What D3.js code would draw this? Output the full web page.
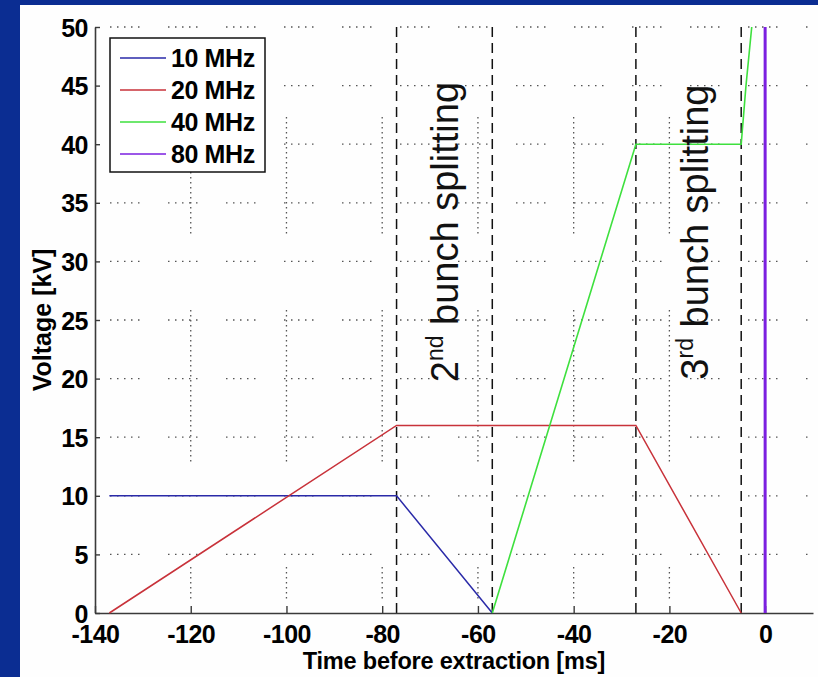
<!DOCTYPE html>
<html>
<head>
<meta charset="utf-8">
<script src="https://cdn.jsdelivr.net/npm/d3@7"></script>
<style>
  html, body { margin: 0; padding: 0; background: #0b2d92; }
  svg { display: block; }
  text { font-family: "Liberation Sans", Arial, Helvetica, sans-serif; }
</style>
</head>
<body>
<svg id="chart" width="818" height="677"></svg>
<script>
// ---- data ----
const xTicks = [-140, -120, -100, -80, -60, -40, -20, 0];
const yTicks = [0, 5, 10, 15, 20, 25, 30, 35, 40, 45, 50];
const seriesNames = ["10 MHz", "20 MHz", "40 MHz", "80 MHz"];
const seriesColors = ["#2a2aa8", "#c8323a", "#3ee03e", "#7b1fe0"];
const s10x = [-137, -77, -57];
const s10y = [10, 10, 0];
const s20x = [-137, -77, -27, -5];
const s20y = [0, 16, 16, 0];
const s40x = [-57, -27, -5, -4, -2.8];
const s40y = [0, 40, 40, 45, 50];
const s80x = [0, 0];
const s80y = [0, 50];
const markerTimes = [-77, -57, -27, -5];
const annotations = [
  { x: -64.2, y: 32.5, main: "2", sup: "nd", rest: " bunch splitting" },
  { x: -12.0, y: 32.5, main: "3", sup: "rd", rest: " bunch splitting" }
];

// ---- layout ----
const svg = d3.select("#chart");
const L = 95, R = 813, T = 27, B = 613;

svg.append("rect").attr("x", 20).attr("y", 5).attr("width", 798).attr("height", 672).attr("fill", "#fefefe");

const x = d3.scaleLinear().domain([-140, 10]).range([L, R]);
const y = d3.scaleLinear().domain([0, 50]).range([B, T]);

// grid (MATLAB-like sparse dotted grid)
const g = svg.append("g");
const hDash = "1.5,5.5,1.5,5.5,1.5,5.5,1.5,5.5,1.5,28.5";
g.selectAll("line.hg").data(yTicks.filter(d => d > 0)).join("line")
  .attr("x1", L).attr("x2", R).attr("y1", d => y(d)).attr("y2", d => y(d))
  .attr("stroke", "#555").attr("stroke-width", 1.3)
  .attr("stroke-dasharray", hDash).attr("stroke-dashoffset", -15);

function dotSegments(segs, total) {
  const arr = []; let pos = 0;
  segs.forEach(([a, b]) => {
    arr.push(0.01, a - pos);
    pos = a;
    while (pos + 5 <= b) { arr.push(1.5, 3.5); pos += 5; }
  });
  arr.push(0.01, total - pos + 1);
  return arr.join(",");
}
const vDash = dotSegments([[90, 213], [283, 438], [540, 576]], B - T);
g.selectAll("line.vg").data(xTicks.filter(d => d > -140 && d < 0)).join("line")
  .attr("x1", d => x(d)).attr("x2", d => x(d)).attr("y1", T).attr("y2", B)
  .attr("stroke", "#555").attr("stroke-width", 1.3)
  .attr("stroke-dasharray", vDash);

// dashed marker lines
svg.selectAll("line.mk").data(markerTimes).join("line")
  .attr("x1", d => x(d)).attr("x2", d => x(d)).attr("y1", y(0)).attr("y2", y(50))
  .attr("stroke", "#111").attr("stroke-width", 1.5).attr("stroke-dasharray", "10,6");

// axes
const fmt = d => String(d);
const xAxis = d3.axisBottom(x).tickValues(xTicks).tickFormat(fmt).tickSize(-7).tickPadding(12.5).tickSizeOuter(0);
const yAxis = d3.axisLeft(y).tickValues(yTicks).tickFormat(fmt).tickSize(-5).tickPadding(7).tickSizeOuter(0);
const gx = svg.append("g").attr("transform", `translate(0,${B})`).call(xAxis);
const gy = svg.append("g").attr("transform", `translate(${L},0)`).call(yAxis);
[gx, gy].forEach(a => {
  a.select(".domain").attr("stroke", "#3a3a3a").attr("stroke-width", 1.6);
  a.selectAll(".tick line").attr("stroke", "#3a3a3a").attr("stroke-width", 1.4);
  a.selectAll(".tick text").attr("fill", "#000").attr("font-size", 25).attr("font-weight", "bold")
    .style("font-family", "'Liberation Sans', Arial, sans-serif").attr("letter-spacing", -0.5);
});
gx.selectAll(".tick text").attr("dy", "0.71em");
gy.selectAll(".tick text").attr("dy", "0.36em");

// series
const line = d3.line().x(d => x(d[0])).y(d => y(d[1]));
const series = [
  { xs: s10x, ys: s10y, w: 1.5 },
  { xs: s20x, ys: s20y, w: 1.5 },
  { xs: s40x, ys: s40y, w: 1.6 },
  { xs: s80x, ys: s80y, w: 3 }
];
series.forEach((s, i) => {
  svg.append("path").datum(s.xs.map((v, k) => [v, s.ys[k]]))
    .attr("d", line).attr("fill", "none").attr("stroke", seriesColors[i]).attr("stroke-width", s.w);
});

// annotations
annotations.forEach(a => {
  const t = svg.append("text")
    .attr("transform", `translate(${x(a.x)},${y(a.y)}) rotate(-90)`)
    .attr("text-anchor", "middle").attr("font-size", 38).attr("fill", "#111");
  t.append("tspan").text(a.main);
  t.append("tspan").attr("font-size", 23).attr("dy", -15).text(a.sup);
  t.append("tspan").attr("dy", 15).text(a.rest);
});

// axis titles
svg.append("text").attr("x", (L + R) / 2).attr("y", 669).attr("text-anchor", "middle")
  .attr("font-size", 23.5).attr("font-weight", "bold").attr("letter-spacing", -0.2)
  .text("Time before extraction [ms]");
svg.append("text").attr("transform", `translate(51,${(T + B) / 2}) rotate(-90)`)
  .attr("text-anchor", "middle").attr("font-size", 25).attr("font-weight", "bold")
  .text("Voltage [kV]");

// legend
const lg = svg.append("g");
lg.append("rect").attr("x", 110).attr("y", 38).attr("width", 155).attr("height", 134)
  .attr("fill", "#fff").attr("stroke", "#111").attr("stroke-width", 1.5);
seriesNames.forEach((n, i) => {
  const yy = 58 + i * 32;
  lg.append("line").attr("x1", 120).attr("x2", 166).attr("y1", yy).attr("y2", yy)
    .attr("stroke", seriesColors[i]).attr("stroke-width", 1.5);
  lg.append("text").attr("x", 171).attr("y", yy).attr("dy", "0.36em")
    .attr("font-size", 25).attr("font-weight", "bold").attr("letter-spacing", -0.4).text(n);
});
</script>
</body>
</html>
